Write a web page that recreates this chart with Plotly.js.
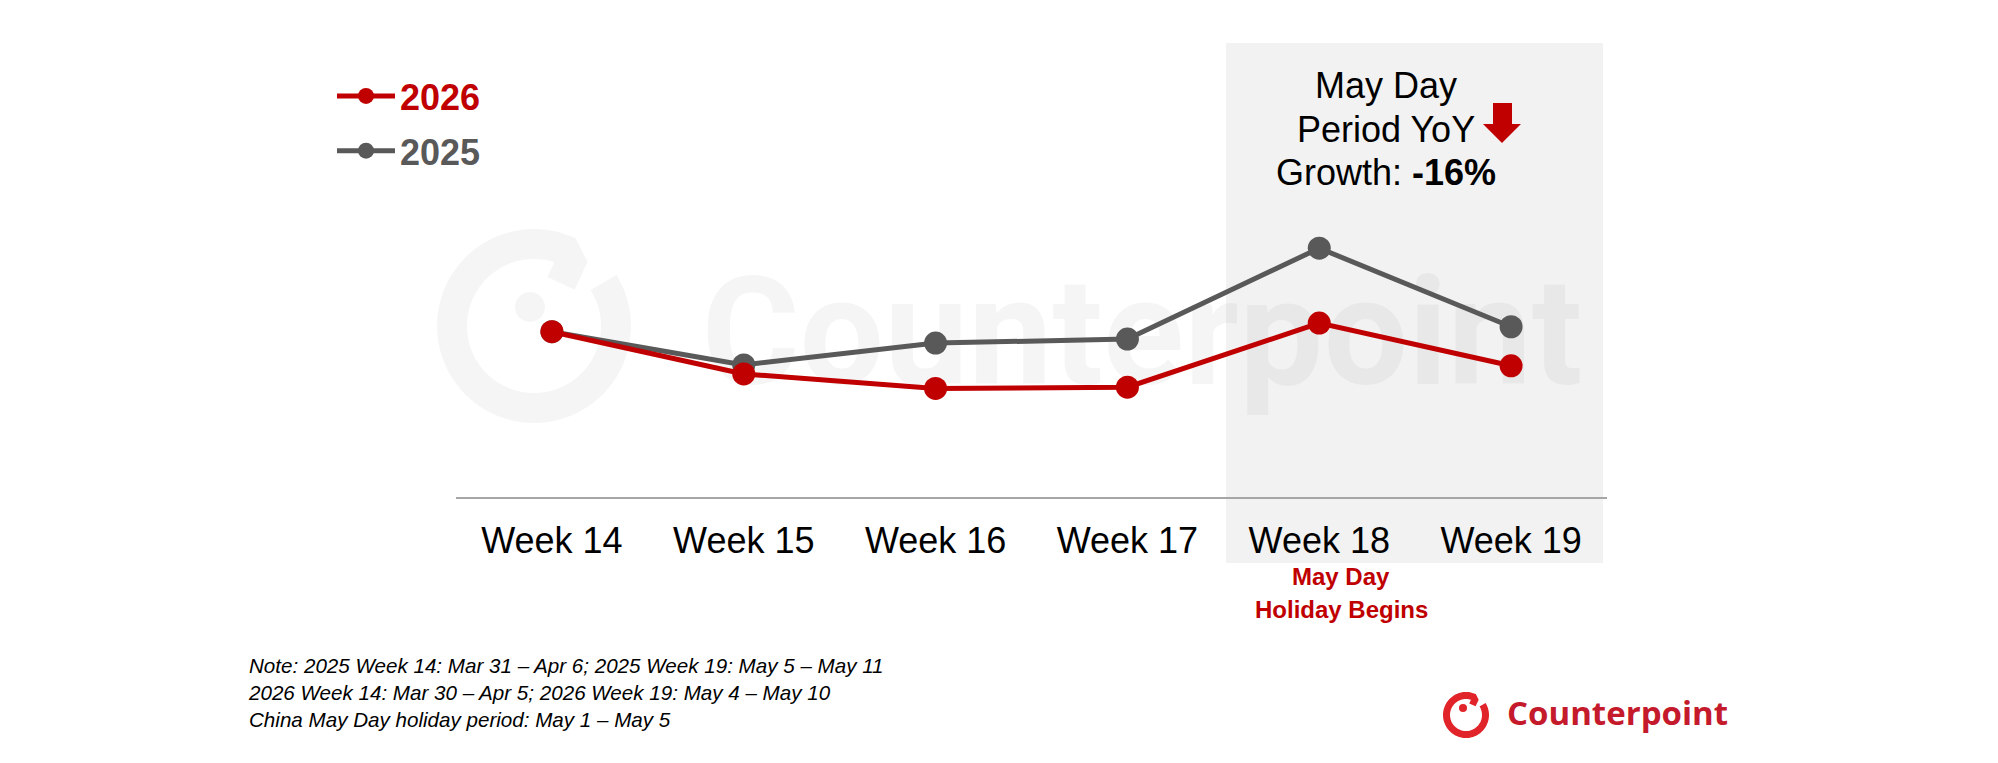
<!DOCTYPE html>
<html>
<head>
<meta charset="utf-8">
<script src="https://cdn.plot.ly/plotly-3.0.1.min.js"></script>
<style>
  html, body { margin: 0; padding: 0; background: #ffffff; }
  #chart { width: 1998px; height: 763px; }
</style>
</head>
<body>
<div id="chart"></div>
<script>
// ---- Data (arbitrary index scale) ----
const categories = ['Week 14', 'Week 15', 'Week 16', 'Week 17', 'Week 18', 'Week 19'];
const values2025 = [36.4, 29.1, 33.9, 34.8, 54.8, 37.5];
const values2026 = [36.4, 27.1, 23.9, 24.2, 38.3, 28.9];
const seriesNames = ['2025', '2026'];
const seriesColors = ['#595959', '#c00000'];
const annoLines = ['May Day', 'Period YoY', 'Growth: <b>-16%</b>'];
const holidayLines = ['May Day', 'Holiday Begins'];
const noteLines = [
  'Note: 2025 Week 14: Mar 31 \u2013 Apr 6; 2025 Week 19: May 5 \u2013 May 11',
  '2026 Week 14: Mar 30 \u2013 Apr 5; 2026 Week 19: May 4 \u2013 May 10',
  'China May Day holiday period: May 1 \u2013 May 5'
];

// ---- Layout geometry helpers (plot area in page pixels) ----
const W = 1998, H = 763;
const M = { l: 456, r: 391, t: 43, b: 266 };
const PW = W - M.l - M.r, PH = H - M.t - M.b;
const BOTTOM = H - M.b;
const px = x => (x - M.l) / PW;
const py = y => (BOTTOM - y) / PH;
const FONT = 'Liberation Sans, Arial, sans-serif';

function logoPath(cx, cy, r) {
  const pts = [];
  for (let a = -32; a <= 292; a += 4) {
    const t = a * Math.PI / 180;
    pts.push([cx + r * Math.cos(t), cy + r * Math.sin(t)]);
  }
  pts.push([cx + 0.45 * r, cy - 0.78 * r]);
  pts.push([cx + 0.33 * r, cy - 0.52 * r]);
  return pts.map((p, i) => (i ? 'L' : 'M') + px(p[0]).toFixed(5) + ',' + py(p[1]).toFixed(5)).join(' ');
}
function arrowPath(pts) {
  return pts.map((p, i) => (i ? 'L' : 'M') + px(p[0]).toFixed(5) + ',' + py(p[1]).toFixed(5)).join(' ') + ' Z';
}

const wmColor = 'rgba(0,0,0,0.04)';
const logoRed = '#e1232a';

const traces = [
  {
    x: categories, y: values2025,
    name: '<b><span style="color:' + seriesColors[0] + '">' + seriesNames[0] + '</span></b>',
    type: 'scatter', mode: 'lines+markers',
    line: { color: seriesColors[0], width: 5 },
    marker: { color: seriesColors[0], size: 23 },
    legendrank: 2, legendgroup: 'a', hoverinfo: 'x+y'
  },
  {
    x: categories, y: values2026,
    name: '<b><span style="color:' + seriesColors[1] + '">' + seriesNames[1] + '</span></b>',
    type: 'scatter', mode: 'lines+markers',
    line: { color: seriesColors[1], width: 5 },
    marker: { color: seriesColors[1], size: 23 },
    legendrank: 1, legendgroup: 'b', hoverinfo: 'x+y'
  }
];

const shapes = [
  { type: 'rect', xref: 'paper', yref: 'paper', layer: 'below',
    x0: px(1226), x1: px(1603), y0: py(563), y1: py(43),
    fillcolor: '#f2f2f2', line: { width: 0 } },
  { type: 'rect', xref: 'paper', yref: 'paper', layer: 'below',
    x0: px(698), x1: px(1586), y0: py(376), y1: py(268),
    fillcolor: 'rgba(0,0,0,0)', line: { width: 0 },
    label: { text: 'Counterpoint', textposition: 'middle center',
      font: { family: 'Roboto, Liberation Sans, sans-serif', size: 150, weight: 'bold', color: wmColor } } },
  { type: 'path', xref: 'paper', yref: 'paper', layer: 'below',
    path: logoPath(534, 326, 82), line: { color: wmColor, width: 30 } },
  { type: 'circle', xref: 'paper', yref: 'paper', layer: 'below',
    x0: px(530 - 15), x1: px(530 + 15), y0: py(307 + 15), y1: py(307 - 15),
    fillcolor: wmColor, line: { width: 0 } },
  { type: 'path', xref: 'paper', yref: 'paper', layer: 'above',
    path: arrowPath([[1493,103],[1512,103],[1512,124],[1521,124],[1502,143],[1483,124],[1493,124]]),
    fillcolor: '#c00000', line: { width: 0 } },
  { type: 'path', xref: 'paper', yref: 'paper', layer: 'above',
    path: logoPath(1466, 715, 19.5), line: { color: logoRed, width: 7 } },
  { type: 'circle', xref: 'paper', yref: 'paper', layer: 'above',
    x0: px(1463 - 4), x1: px(1463 + 4), y0: py(708 + 4), y1: py(708 - 4),
    fillcolor: logoRed, line: { width: 0 } }
];

const annotations = [];
const annoY = [85, 129, 172];
annoLines.forEach((t, i) => annotations.push({
  xref: 'paper', yref: 'paper', x: px(1386), y: py(annoY[i]),
  xanchor: 'center', yanchor: 'middle', showarrow: false, text: t,
  font: { family: FONT, size: 36, color: '#000000' }
}));
const holY = [576, 609];
holidayLines.forEach((t, i) => annotations.push({
  xref: 'paper', yref: 'paper', x: px(1341), y: py(holY[i]),
  xanchor: 'center', yanchor: 'middle', showarrow: false, text: '<b>' + t + '</b>',
  font: { family: FONT, size: 24, color: '#c00000' }
}));
annotations.push({
  xref: 'paper', yref: 'paper', x: px(246), y: py(692),
  xanchor: 'left', yanchor: 'middle', align: 'left', showarrow: false,
  text: noteLines.map(s => '<i>' + s + '</i>').join('<br>'),
  font: { family: FONT, size: 20.6, color: '#000000' }
});
annotations.push({
  xref: 'paper', yref: 'paper', x: px(1505), y: py(712),
  xanchor: 'left', yanchor: 'middle', showarrow: false, text: '<b>Counterpoint</b>',
  font: { family: 'Open Sans, sans-serif', size: 33, color: '#c41a2c' }
});

const layout = {
  width: W, height: H,
  margin: M,
  paper_bgcolor: '#ffffff', plot_bgcolor: 'rgba(0,0,0,0)',
  showlegend: true,
  legend: {
    x: px(332), y: py(66), xanchor: 'left', yanchor: 'top',
    traceorder: 'grouped', tracegroupgap: 5,
    font: { family: FONT, size: 36, color: '#595959' },
    bgcolor: 'rgba(0,0,0,0)', itemwidth: 58
  },
  xaxis: {
    type: 'category', categoryorder: 'array', categoryarray: categories,
    range: [-0.5, 5.5], showgrid: false, zeroline: false,
    showline: true, linecolor: '#a6a6a6', linewidth: 2,
    ticks: '', ticklabelstandoff: 11,
    tickfont: { family: FONT, size: 36, color: '#000000' },
    fixedrange: true
  },
  yaxis: { range: [0, 100], visible: false, fixedrange: true },
  shapes: shapes,
  annotations: annotations
};

Plotly.newPlot('chart', traces, layout, { displayModeBar: false, staticPlot: true });
</script>
</body>
</html>
